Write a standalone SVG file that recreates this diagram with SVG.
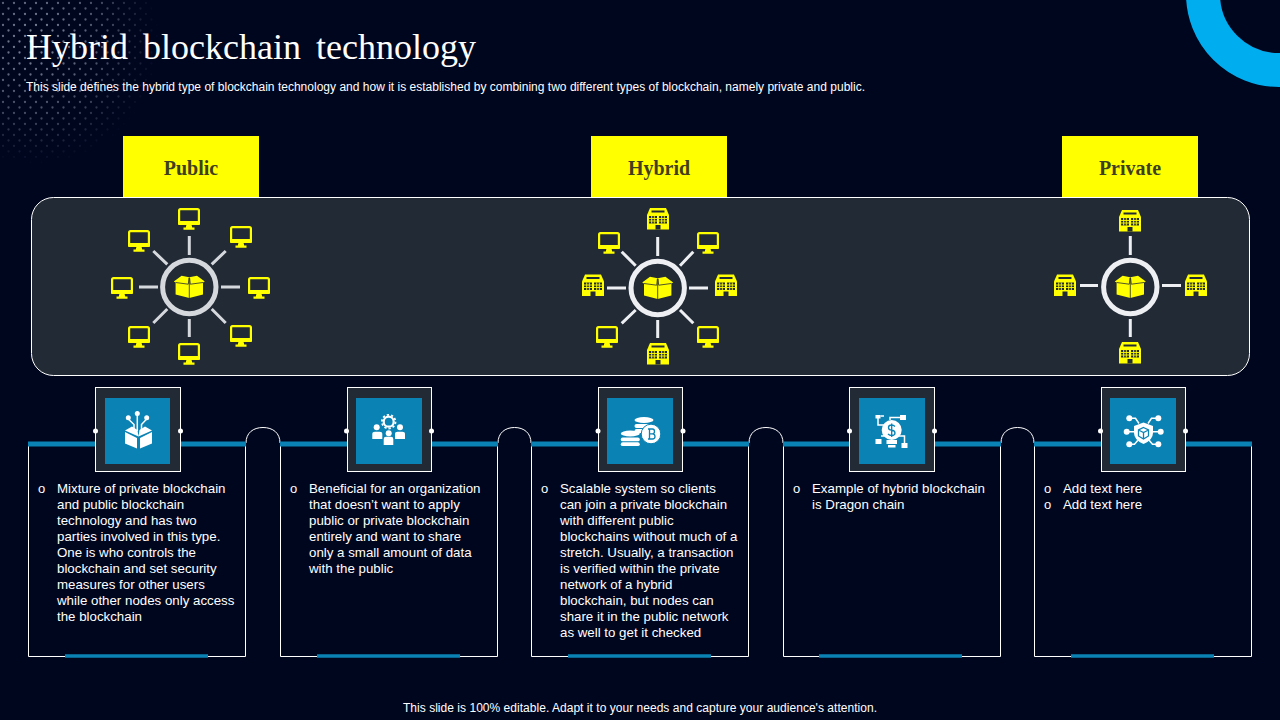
<svg xmlns="http://www.w3.org/2000/svg" width="1280" height="720" viewBox="0 0 1280 720">
<style>
text{font-family:"Liberation Sans",Arial,sans-serif;fill:#fff}
.title{font-family:"Liberation Serif","Times New Roman",serif;font-size:36px}
.sub{font-size:12px}
.tab{font-family:"Liberation Serif","Times New Roman",serif;font-size:20px;font-weight:bold;fill:#3f3f22;text-anchor:middle}
.body{font-size:13.3px}
.bul{font-size:13px}
.tabbox{fill:#ffff00}
.sp{stroke-width:3;fill:none}
.sg{stroke:#d5d8dd}
.sw{stroke:#edeff3}
.card{fill:none;stroke:#fff;stroke-width:1}
.bar{stroke:#0a82b4;stroke-width:5;fill:none}
.bar2{stroke:#0a82b4;stroke-width:3.500;fill:none}
.tile{fill:#222a36;stroke:#fff;stroke-width:1}
.inner{fill:#0a82b4}
.dot{fill:#fff}
.ic{fill:#fff}
.il{stroke:#fff;fill:none;stroke-width:1.500}
.ib{stroke:#0a82b4;fill:none;stroke-width:1.300}
.y{fill:#ffff00}
.yd{fill:#222a36}
</style>
<defs>
<pattern id="dots" width="11" height="11" patternUnits="userSpaceOnUse">
<circle cx="3" cy="3" r="1.150" fill="#aab4c8"/>
<circle cx="8.500" cy="8.500" r="1.150" fill="#aab4c8"/>
</pattern>
<radialGradient id="fade" gradientUnits="userSpaceOnUse" cx="35" cy="40" r="125">
<stop offset="0" stop-color="#fff" stop-opacity="0.75"/>
<stop offset="0.6" stop-color="#fff" stop-opacity="0.4"/>
<stop offset="1" stop-color="#fff" stop-opacity="0"/>
</radialGradient>
<mask id="fm"><rect width="170" height="170" fill="url(#fade)"/></mask>
<g id="mon">
<rect x="1.100" y="1.100" width="19.800" height="14.800" rx="1.500" class="yd" stroke="#ffff00" stroke-width="2.200"/>
<rect x="0" y="13" width="22" height="4" rx="1" class="y"/>
<path d="M8.500 16.500h5l.7 3h2.300v2.200H5.500v-2.200h2.300z" class="y"/>
</g>
<g id="bld">
<path d="M3 0H19L22 7V21.500H0V7z" class="y"/>
<path d="M4.500 2.500H17.500V4.500H4.500z" class="yd"/>
<path d="M2 8H10V15.500H2zM12 8H20V15.500H12z" class="yd"/>
<path d="M2 10.500H10M2 13H10M4.700 8V15.500M7.300 8V15.500M12 10.500H20M12 13H20M14.700 8V15.500M17.300 8V15.500" stroke="#ffff00" stroke-width=".9" fill="none"/>
<rect x="8.500" y="17" width="5" height="4.500" class="yd"/>
</g>
<g id="box">
<path d="M-15.500-5.500-7.700-11.300 0-9.700 7.700-11.300 15.500-5.500 13.700-4.500V7.500L0 11-13.700 7.500V-4.500z" class="y"/>
<path d="M0-9.700V11M-13.700-4.500-1-2.800-.3-9M13.700-4.500 1-2.800 .3-9" stroke="#222a36" stroke-width=".8" fill="none"/>
</g>
</defs>
<rect width="1280" height="720" fill="#01061f"/>
<rect width="170" height="170" fill="url(#dots)" mask="url(#fm)"/>
<circle cx="1279" cy="-6" r="76" fill="none" stroke="#00aef0" stroke-width="34"/>

<g id="header">
<text class="title" x="26" y="59" word-spacing="6">Hybrid blockchain technology</text>
<text class="sub" x="26" y="91" textLength="839">This slide defines the hybrid type of blockchain technology and how it is established by combining two different types of blockchain, namely private and public.</text>
</g>

<rect id="panel" x="31.500" y="197.500" width="1218" height="178" rx="22" fill="#222a36" stroke="#fff" stroke-width="1"/>

<g id="tab-public"><rect class="tabbox" x="123" y="136" width="136" height="61"/><text class="tab" x="191" y="175">Public</text></g>
<g id="tab-hybrid"><rect class="tabbox" x="591" y="136" width="136" height="61"/><text class="tab" x="659" y="175">Hybrid</text></g>
<g id="tab-private"><rect class="tabbox" x="1062" y="136" width="136" height="61"/><text class="tab" x="1130" y="175">Private</text></g>

<g id="hub-public">
<circle cx="189.300" cy="287" r="26.700" fill="none" stroke="#d5d8dd" stroke-width="5"/>
<use href="#box" x="189.300" y="287"/>
</g>
<g id="pub-n1"><use href="#mon" x="178" y="208"/></g>
<g id="pub-n2"><use href="#mon" x="230" y="226"/></g>
<g id="pub-n3"><use href="#mon" x="248" y="277"/></g>
<g id="pub-n4"><use href="#mon" x="230" y="325"/></g>
<g id="pub-n5"><use href="#mon" x="178" y="343"/></g>
<g id="pub-n6"><use href="#mon" x="128" y="326"/></g>
<g id="pub-n7"><use href="#mon" x="111" y="277"/></g>
<g id="pub-n8"><use href="#mon" x="128" y="230"/></g>

<g id="hub-hybrid">
<circle cx="657.700" cy="288" r="26.700" fill="none" stroke="#edeff3" stroke-width="5"/>
<use href="#box" x="657.700" y="288"/>
</g>
<g id="hyb-n1"><use href="#bld" x="647" y="208"/></g>
<g id="hyb-n2"><use href="#mon" x="697" y="232"/></g>
<g id="hyb-n3"><use href="#bld" x="715" y="274.500"/></g>
<g id="hyb-n4"><use href="#mon" x="697" y="326"/></g>
<g id="hyb-n5"><use href="#bld" x="647" y="343"/></g>
<g id="hyb-n6"><use href="#mon" x="596" y="326"/></g>
<g id="hyb-n7"><use href="#bld" x="582" y="274.500"/></g>
<g id="hyb-n8"><use href="#mon" x="598" y="232"/></g>

<g id="hub-private">
<circle cx="1130.300" cy="287" r="26.700" fill="none" stroke="#edeff3" stroke-width="5"/>
<use href="#box" x="1130.300" y="287"/>
</g>
<g id="pri-n1"><use href="#bld" x="1119" y="210"/></g>
<g id="pri-n2"><use href="#bld" x="1185" y="274.500"/></g>
<g id="pri-n3"><use href="#bld" x="1119" y="342"/></g>
<g id="pri-n4"><use href="#bld" x="1054" y="274.500"/></g>

<g id="arches" fill="none" stroke="#fff" stroke-width="1">
<path d="M246 443C246 433 253 427.500 263 427.500S280 433 280 443"/>
<path d="M498 443C498 433 505 427.500 514.500 427.500S531 433 531 443"/>
<path d="M749 443C749 433 756 427.500 766 427.500S783 433 783 443"/>
<path d="M1001 443C1001 433 1008 427.500 1017.500 427.500S1034 433 1034 443"/>
</g>

<g id="card-1">
<path class="card" d="M28.500 445V656.500H245.500V445"/>
<rect class="tile" x="95.500" y="387.500" width="85" height="84"/>
<rect class="inner" x="105" y="398" width="65" height="66"/>
<circle class="dot" cx="95.500" cy="431" r="2.500"/><circle class="dot" cx="180.500" cy="431" r="2.500"/>
<g id="icon-1">
<path class="ic" d="M125 432 137 438V448.500L125 443.500zM152 432 140 438V448.500L152 443.500zM125 430.500 132 426.500 137.500 430 138.500 436.500zM152 430.500 145 426.500 139.500 430 138.500 436.500z"/>
<circle class="ic" cx="128.300" cy="417.700" r="2.500"/><circle class="ic" cx="137.300" cy="413.500" r="2.500"/><circle class="ic" cx="146.700" cy="417.700" r="2.500"/>
<path class="il" d="M128.300 419 134 424.500V430M137.300 415V431M146.700 419 141.500 424.500V430"/>
</g>
<text class="bul" x="38" y="493">o</text>
<text class="body" x="57" y="493">Mixture of private blockchain</text>
<text class="body" x="57" y="509">and public blockchain</text>
<text class="body" x="57" y="525">technology and has two</text>
<text class="body" x="57" y="541">parties involved in this type.</text>
<text class="body" x="57" y="557">One is who controls the</text>
<text class="body" x="57" y="573">blockchain and set security</text>
<text class="body" x="57" y="589">measures for other users</text>
<text class="body" x="57" y="605">while other nodes only access</text>
<text class="body" x="57" y="621">the blockchain</text>
</g>

<g id="card-2">
<path class="card" d="M280.500 445V656.500H497.500V445"/>
<rect class="tile" x="347.500" y="387.500" width="84" height="84"/>
<rect class="inner" x="356" y="398" width="66" height="66"/>
<circle class="dot" cx="346.500" cy="431" r="2.500"/><circle class="dot" cx="431.500" cy="431" r="2.500"/>
<g id="icon-2">
<circle cx="388.700" cy="421.700" r="5" fill="none" stroke="#fff" stroke-width="2.200"/>
<circle cx="388.700" cy="421.700" r="6.800" fill="none" stroke="#fff" stroke-width="1.800" stroke-dasharray="2.300 1.970"/>
<circle class="ic" cx="376.700" cy="427.300" r="3"/><circle class="ic" cx="400" cy="427.300" r="3"/><circle class="ic" cx="388.700" cy="433.300" r="3"/>
<path class="ic" d="M372.300 439V434Q372.300 431.700 375 431.700H379.600Q382.300 431.700 382.300 434V439zM395 439V434Q395 431.700 397.700 431.700H402.300Q405 431.700 405 434V439zM383.700 445V439Q383.700 436.700 386 436.700H391Q393.300 436.700 393.300 439V445z"/>
</g>
<text class="bul" x="290" y="493">o</text>
<text class="body" x="309" y="493">Beneficial for an organization</text>
<text class="body" x="309" y="509">that doesn’t want to apply</text>
<text class="body" x="309" y="525">public or private blockchain</text>
<text class="body" x="309" y="541">entirely and want to share</text>
<text class="body" x="309" y="557">only a small amount of data</text>
<text class="body" x="309" y="573">with the public</text>
</g>

<g id="card-3">
<path class="card" d="M531.500 445V656.500H748.500V445"/>
<rect class="tile" x="598.500" y="387.500" width="84" height="84"/>
<rect class="inner" x="607" y="398" width="66" height="66"/>
<circle class="dot" cx="598" cy="431" r="2.500"/><circle class="dot" cx="683" cy="431" r="2.500"/>
<g id="icon-3">
<ellipse class="ic" cx="644" cy="420" rx="9.500" ry="3"/><rect class="ic" x="634.500" y="424" width="19" height="4" rx="2"/><rect class="ic" x="634.500" y="429" width="19" height="4" rx="2"/>
<ellipse class="ic" cx="630.300" cy="433.500" rx="9.500" ry="3"/><rect class="ic" x="620.800" y="437.500" width="19" height="3.800" rx="1.900"/><rect class="ic" x="620.800" y="442.300" width="19" height="3.800" rx="1.900"/>
<circle class="ic" cx="651" cy="434" r="9.800" stroke="#0a82b4" stroke-width="1"/>
<path class="ib" d="M649.500 429V439M648 429H652.500Q654.500 429 654.500 431.500Q654.500 433.800 652.500 433.800H649.500M652.500 433.800Q655 433.800 655 436.500Q655 439 652.500 439H648"/>
</g>
<text class="bul" x="541" y="493">o</text>
<text class="body" x="560" y="493">Scalable system so clients</text>
<text class="body" x="560" y="509">can join a private blockchain</text>
<text class="body" x="560" y="525">with different public</text>
<text class="body" x="560" y="541">blockchains without much of a</text>
<text class="body" x="560" y="557">stretch. Usually, a transaction</text>
<text class="body" x="560" y="573">is verified within the private</text>
<text class="body" x="560" y="589">network of a hybrid</text>
<text class="body" x="560" y="605">blockchain, but nodes can</text>
<text class="body" x="560" y="621">share it in the public network</text>
<text class="body" x="560" y="637">as well to get it checked</text>
</g>

<g id="card-4">
<path class="card" d="M783.500 445V656.500H1000.500V445"/>
<rect class="tile" x="849.500" y="387.500" width="85" height="84"/>
<rect class="inner" x="859" y="398" width="66" height="66"/>
<circle class="dot" cx="849.500" cy="431" r="2.500"/><circle class="dot" cx="934.500" cy="431" r="2.500"/>
<g id="icon-4">
<circle class="ic" cx="891.700" cy="430" r="10"/>
<path class="ic" d="M886.500 440H897V444H886.500zM888 445H895.500V447.500H888z"/>
<path class="ib" d="M895 426.500Q893.500 425 891.700 425Q888.500 425 888.500 427.500T891.700 430.200T895 433Q895 435.500 891.700 435.500Q889.500 435.500 888 434M891.700 423.500V437"/>
<rect class="ic" x="875.500" y="415" width="5" height="3.500"/><rect class="ic" x="900" y="415" width="6" height="5"/>
<rect class="ic" x="875.500" y="439" width="6" height="5"/><rect class="ic" x="901.500" y="443" width="6" height="5"/>
<path class="il" d="M878 418V425H884M890 420V417.500H900M881 436H884V431M899 436H904.500V443M880.500 416H884"/>
</g>
<text class="bul" x="793" y="493">o</text>
<text class="body" x="812" y="493">Example of hybrid blockchain</text>
<text class="body" x="812" y="509">is Dragon chain</text>
</g>

<g id="card-5">
<path class="card" d="M1034.500 445V656.500H1251.500V445"/>
<rect class="tile" x="1101.500" y="387.500" width="84" height="84"/>
<rect class="inner" x="1110" y="398" width="66" height="66"/>
<circle class="dot" cx="1100.500" cy="431" r="2.500"/><circle class="dot" cx="1185.500" cy="431" r="2.500"/>
<g id="icon-5">
<path class="il" d="M1129.300 418.300H1135.500L1139 423.500M1158.300 418.300H1151.500L1148 423.500M1126.700 431.700H1134M1160.700 431.700H1153M1129.300 444.300H1134.500L1138.500 439.500M1158.300 444.300H1152.500L1148.500 439.500"/>
<path class="ic" d="M1143.500 422.500 1153 426V433Q1153 440 1143.500 444 1134 440 1134 433V426z"/>
<path class="ib" d="M1143.500 427.500 1148.500 430V436L1143.500 439 1138.500 436V430zM1138.500 430 1143.500 432.500 1148.500 430M1143.500 432.500V439"/>
<circle class="ic" cx="1129.300" cy="418.300" r="3"/><circle class="ic" cx="1158.300" cy="418.300" r="3"/>
<circle class="ic" cx="1126.700" cy="431.700" r="3"/><circle class="ic" cx="1160.700" cy="431.700" r="3"/>
<circle class="ic" cx="1129.300" cy="444.300" r="3"/><circle class="ic" cx="1158.300" cy="444.300" r="3"/>
</g>
<text class="bul" x="1044" y="493">o</text>
<text class="body" x="1063" y="493">Add text here</text>
<text class="bul" x="1044" y="509">o</text>
<text class="body" x="1063" y="509">Add text here</text>
</g>

<g id="connectors">
<path class="sp sg" d="M189.300 236V255M189.300 319V337M139 287H158M221 287H240M153.300 251 167.300 264.300M225.700 251 211.700 264.300M153.300 323 167.300 309M225.700 323 211.700 309"/>
<path class="sp sw" d="M657.700 237V256M657.700 320V338M607 288H626M689 288H708M621.700 251.700 635.700 265.700M693.300 251.700 680 265.700M621.700 323.300 635.700 310M693.300 323.300 680 310"/>
<path class="sp sw" d="M1130.300 236V255M1130.300 319V337M1080 285.500H1098M1162 285.500H1181"/>
<path class="bar" d="M28 444H95M181 444H246M280 444H347M432 444H498M531 444H598M683 444H749M783 444H849M935 444H1001M1034 444H1101M1186 444H1252"/>
<path class="bar2" d="M65 656H208M317 656H460M568 656H711M819 656H962M1071 656H1214"/>
</g>

<text id="footer" class="sub" x="403" y="712" textLength="474">This slide is 100% editable. Adapt it to your needs and capture your audience's attention.</text>
</svg>
